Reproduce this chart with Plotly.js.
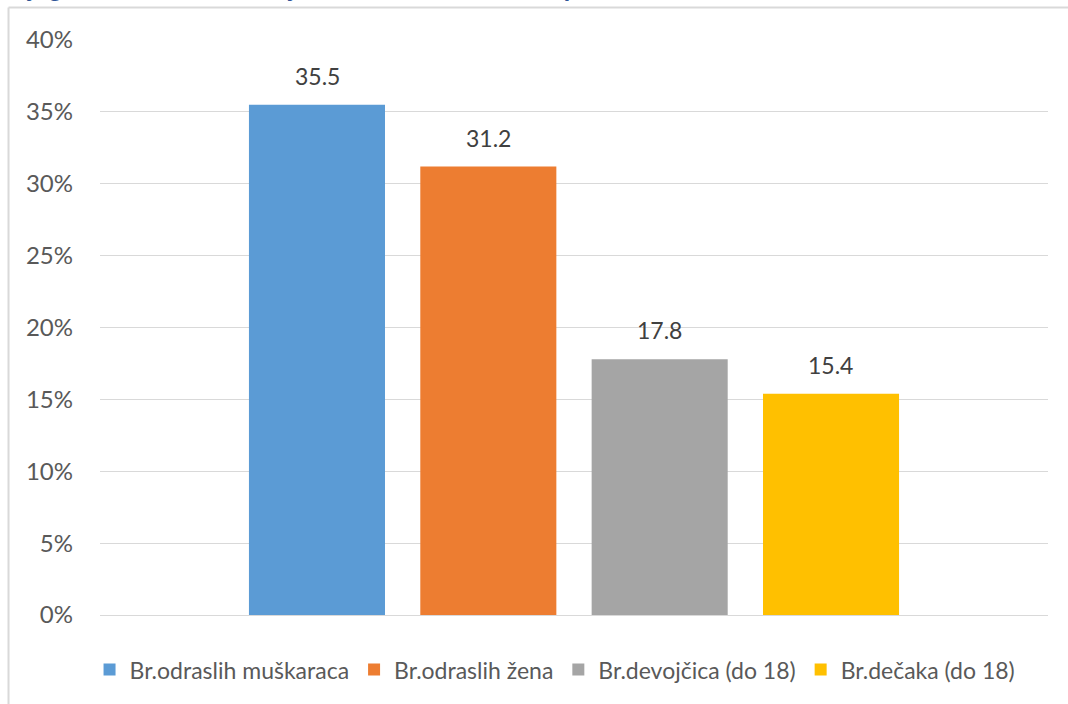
<!DOCTYPE html>
<html>
<head>
<meta charset="utf-8">
<script src="https://cdn.plot.ly/plotly-3.0.1.min.js"></script>
<style>
  html, body { margin: 0; padding: 0; background: #ffffff; }
  #chart { width: 1068px; height: 704px; }
</style>
</head>
<body>
<div id="chart"></div>
<script>
const category = ["Prosek"];
const seriesNames = ["Br.odraslih muškaraca", "Br.odraslih žena", "Br.devojčica (do 18)", "Br.dečaka (do 18)"];
const seriesValues = [35.5, 31.2, 17.8, 15.4];
const seriesColors = ["#5B9BD5", "#ED7D31", "#A5A5A5", "#FFC000"];
const yTickValues = [0, 5, 10, 15, 20, 25, 30, 35, 40];
const captionText = "Dijagram 1: Prosečan broj članova domaćinstva ispitanika";

const FONT = "Lato, 'Open Sans', sans-serif";

const traces = seriesNames.map((name, i) => ({
  type: "bar",
  name: name,
  x: category,
  y: [seriesValues[i]],
  marker: { color: seriesColors[i] },
  hoverinfo: "skip"
}));

const slotPx = 171.3;
const annotations = seriesValues.map((v, i) => ({
  xref: "x", yref: "y",
  x: category[0], y: v,
  text: v.toFixed(1),
  showarrow: false,
  xanchor: "center", yanchor: "bottom",
  xshift: (i - (seriesValues.length - 1) / 2) * slotPx,
  yshift: 13,
  font: { family: FONT, size: 23, color: "#404040" }
}));

annotations.push({
  xref: "paper", yref: "paper",
  x: -0.103, y: 1.06,
  xanchor: "left", yanchor: "bottom",
  text: "<b><i>" + captionText + "</i></b>",
  showarrow: false,
  font: { family: FONT, size: 27, color: "#2F5597" }
});

const layout = {
  width: 1068,
  height: 704,
  margin: { l: 100, r: 20, t: 40, b: 89 },
  paper_bgcolor: "#ffffff",
  plot_bgcolor: "#ffffff",
  barmode: "group",
  bargap: 0.277,
  bargroupgap: 0.206,
  showlegend: true,
  legend: {
    orientation: "h",
    x: 0.48, xanchor: "center",
    y: -0.095, yanchor: "middle",
    font: { family: FONT, size: 23, color: "#595959" },
    itemclick: false, itemdoubleclick: false,
    traceorder: "normal",
    itemwidth: 30
  },
  xaxis: {
    type: "category",
    range: [-0.5, 0.5],
    showticklabels: false,
    showgrid: false,
    zeroline: false,
    showline: false,
    ticks: ""
  },
  yaxis: {
    range: [0, 40],
    tickvals: yTickValues,
    ticktext: yTickValues.map(v => v + "%"),
    showgrid: true,
    gridcolor: "#D9D9D9",
    gridwidth: 1,
    zeroline: true,
    zerolinecolor: "#D9D9D9",
    zerolinewidth: 1,
    showline: false,
    ticks: "",
    ticklabelstandoff: 26,
    tickfont: { family: FONT, size: 24, color: "#595959" }
  },
  annotations: annotations,
  shapes: [
    { type: "line", xref: "paper", yref: "paper", x0: -0.0965, x1: 1.05, y0: 1.0565, y1: 1.0565,
      line: { color: "#D9D9D9", width: 2 } },
    { type: "line", xref: "paper", yref: "paper", x0: -0.0965, x1: -0.0965, y0: 1.0565, y1: -0.16,
      line: { color: "#D9D9D9", width: 2 } }
  ]
};

Plotly.newPlot("chart", traces, layout, { displayModeBar: false, staticPlot: true });
</script>
</body>
</html>
